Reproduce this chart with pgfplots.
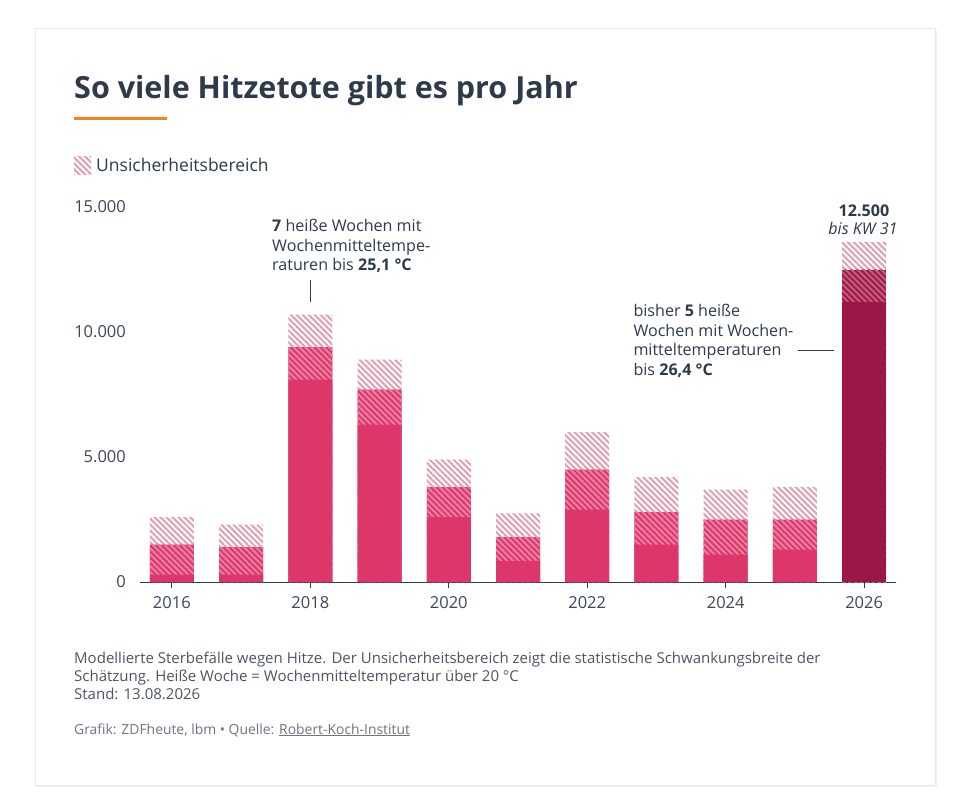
\documentclass[border=0pt]{standalone}
\usepackage{fontspec}
\setmainfont{Open Sans}
\usepackage{pgfplots}
\pgfplotsset{compat=1.18}
\usetikzlibrary{patterns.meta}
\definecolor{txt}{HTML}{2E3A4B}
\definecolor{tickc}{HTML}{3D4757}
\definecolor{solidc}{HTML}{DC366B}
\definecolor{stripeD}{HTML}{EC7EA0}
\definecolor{stripeL}{HTML}{DFA2B5}
\definecolor{maroonc}{HTML}{9B1747}
\definecolor{stripeM}{HTML}{C45A7E}
\definecolor{orangeL}{HTML}{F58220}
\definecolor{footc}{HTML}{4D5563}
\definecolor{srcc}{HTML}{6E7580}
\definecolor{cardb}{HTML}{E8E8E8}
\tikzset{
  lightH/.style={pattern={Lines[angle=-45,distance=4.2pt,line width=2.1pt]},pattern color=stripeL},
}
\begin{document}
\begin{tikzpicture}[x=1pt,y=1pt]
\fill[white] (0,0) rectangle (958,-808);
\fill[cardb!60] (36,-30) rectangle (937,-787);
\fill[white,draw=cardb] (35,-28) rectangle (935,-785);
% title
\node[anchor=base west,inner sep=0pt,text=txt,font=\fontsize{30.5}{36}\selectfont\bfseries] at (74,-98) {So viele Hitzetote gibt es pro Jahr};
\fill[orangeL] (74,-117.3) rectangle (167.3,-120);
% legend
\fill[lightH] (74,-156.7) rectangle (91,-174.3);
\node[anchor=base west,inner sep=0pt,text=txt,font=\fontsize{17.5}{20}\selectfont] at (96,-171.7) {Unsicherheitsbereich};
\begin{axis}[
  at={(140pt,-582pt)}, anchor=south west,
  scale only axis, width=756pt, height=375pt,
  xmin=2015.54, xmax=2026.46, ymin=0, ymax=15000,
  axis x line*=bottom, axis y line*=left,
  x axis line style={draw=txt, line width=1pt, -},
  y axis line style={draw=none},
  xtick={2016,2018,2020,2022,2024,2026},
  xticklabels={2016,2018,2020,2022,2024,2026},
  ytick={0,5000,10000,15000},
  yticklabels={0,5.000,10.000,15.000},
  scaled y ticks=false,
  xtick style={draw=txt, line width=0.8pt},
  ytick style={draw=none},
  tick align=outside,
  major tick length=6pt,
  /pgf/number format/assume math mode=true,
  ticklabel style={font=\fontsize{16.5}{16.5}\selectfont, text=tickc},
  yticklabel style={anchor=east, inner sep=0pt, xshift=-8pt},
  xticklabel style={anchor=north, inner sep=0pt, yshift=-8pt},
  ybar, bar width=44pt,
  clip=false,
]
% light hatched (upper bound)
\addplot[bar shift=0pt, draw=none, lightH] coordinates {
(2016,2600) (2017,2300) (2018,10700) (2019,8900) (2020,4900)
(2021,2750) (2022,6000) (2023,4200) (2024,3700) (2025,3800)};
% dark hatched (estimate)
\addplot[bar shift=0pt, draw=none, fill=solidc, postaction={pattern={Lines[angle=-45,distance=4.2pt,line width=2.1pt]},pattern color=stripeD}] coordinates {
(2016,1500) (2017,1400) (2018,9400) (2019,7700) (2020,3800)
(2021,1800) (2022,4500) (2023,2800) (2024,2500) (2025,2500)};
% solid (lower bound)
\addplot[bar shift=0pt, draw=none, fill=solidc] coordinates {
(2016,300) (2017,300) (2018,8100) (2019,6300) (2020,2600)
(2021,850) (2022,2900) (2023,1500) (2024,1100) (2025,1300)};
% 2026
\addplot[bar shift=0pt, draw=none, lightH] coordinates {(2026,13600)};
\addplot[bar shift=0pt, draw=none, fill=maroonc, postaction={pattern={Lines[angle=-45,distance=4.2pt,line width=2.1pt]},pattern color=stripeM}] coordinates {(2026,12500)};
\addplot[bar shift=0pt, draw=none, fill=maroonc] coordinates {(2026,11200)};
\end{axis}
% annotations
\begin{scope}[every node/.style={inner sep=0pt,text=txt,font=\fontsize{16.1}{19}\selectfont}]
\node[anchor=base west] at (272,-231.7) {\textbf{7} heiße Wochen mit};
\node[anchor=base west] at (272,-251.5) {Wochenmitteltempe-};
\node[anchor=base west] at (272,-270.7) {raturen bis \textbf{25,1 °C}};
\draw[txt,line width=0.9pt] (310.3,-280) -- (310.3,-302);
\node[anchor=base west] at (633.3,-316.7) {bisher \textbf{5} heiße};
\node[anchor=base west] at (633.3,-336) {Wochen mit Wochen-};
\node[anchor=base west] at (633.3,-355.7) {mitteltemperaturen};
\node[anchor=base west] at (633.3,-375) {bis \textbf{26,4 °C}};
\draw[txt,line width=0.9pt] (798,-350) -- (834,-350);
\node[anchor=base] at (864,-216.7) {\textbf{12.500}};
\node[anchor=base] at (863,-234.7) {\itshape bis KW 31};
\end{scope}
% footnote
\begin{scope}[every node/.style={inner sep=0pt,anchor=base west,text=footc,font=\fontsize{15}{17}\selectfont}]
\node at (74,-663) {Modellierte Sterbefälle wegen Hitze. Der Unsicherheitsbereich zeigt die statistische Schwankungsbreite der};
\node at (74,-681) {Schätzung. Heiße Woche = Wochenmitteltemperatur über 20 °C};
\node at (74,-699) {Stand: 13.08.2026};
\node[text=srcc,font=\fontsize{13.9}{16}\selectfont] at (74,-734) {Grafik: ZDFheute, lbm • Quelle: \underline{Robert-Koch-Institut}};
\end{scope}
\end{tikzpicture}
\end{document}
